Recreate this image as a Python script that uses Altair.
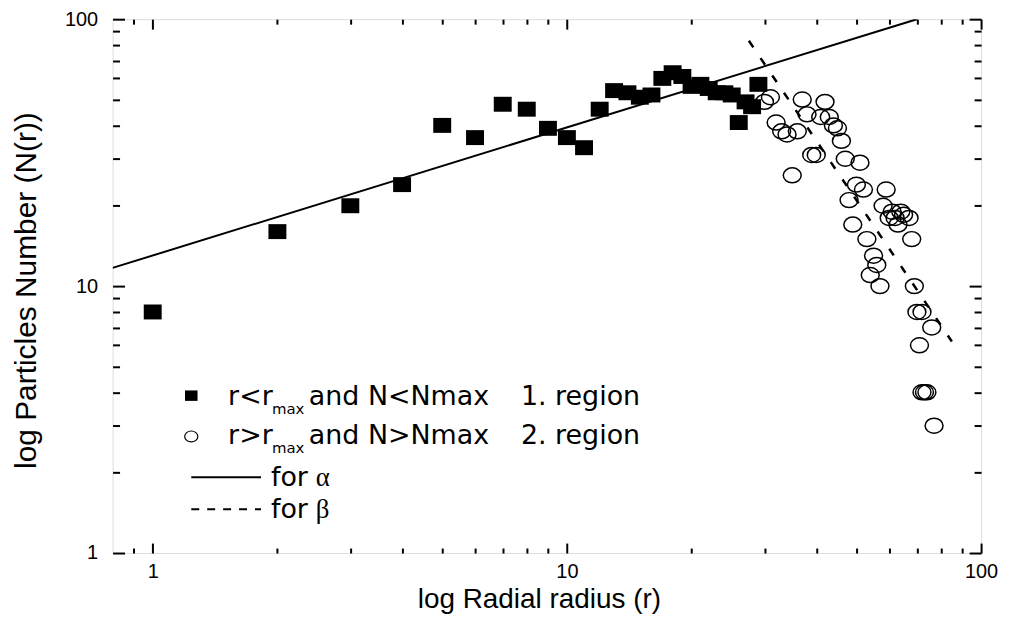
import altair as alt
import pandas as pd

# ---------------- data ----------------
sq_r = [1, 2, 3, 4, 5, 6, 7, 8, 9, 10, 11, 12, 13, 14, 15, 16, 17, 18, 19, 20,
        21, 22, 23, 24, 25, 26, 27, 28, 29]
sq_n = [8, 16, 20, 24, 40, 36, 48, 46, 39, 36, 33, 46, 54, 53, 51, 52, 60, 63, 61, 56,
        57, 55, 53, 53, 52, 41, 49, 47, 57]

ci_r = [30, 31, 32, 33, 34, 35, 36, 37, 38, 39, 40, 41, 42, 43, 44, 45, 46, 47, 48, 49,
        50, 51, 52, 53, 54, 55, 56, 57, 58, 59, 60, 61, 62, 63, 64, 65, 67, 68, 69, 70,
        71, 72, 72, 73, 74, 76, 77]
ci_n = [49, 51, 41, 38, 37, 26, 38, 50, 44, 31, 31, 43, 49, 43, 40, 39, 35, 30, 21, 17,
        24, 29, 23, 15, 11, 13, 12, 10, 20, 23, 18, 19, 18, 17, 19, 18.5, 18, 15, 10, 8,
        6, 8, 4, 4, 4, 7, 3]

alpha_r = [0.8, 70]
alpha_n = [11.7, 100]
beta_r = [27.5, 85]
beta_n = [83, 6.2]

x_major = [1, 10, 100]
x_minor = [0.9, 2, 3, 4, 5, 6, 7, 8, 9, 20, 30, 40, 50, 60, 70, 80, 90]
y_major = [1, 10, 100]
y_minor = [2, 3, 4, 5, 6, 7, 8, 9, 20, 30, 40, 50, 60, 70, 80, 90]

x_title = "log Radial radius (r)"
y_title = "log Particles Number (N(r))"

# ---------------- styling ----------------
W, H = 872, 536
LABEL_FONT = "Liberation Sans"
LEG_FONT = "DejaVu Sans"
SQUARE = "M-1.2,-1L1.2,-1L1.2,1L-1.2,1Z"
ELLIPSE = "M-1.2,0A1.2,1,0,1,1,1.2,0A1.2,1,0,1,1,-1.2,0Z"

XS = alt.Scale(type="log", domain=[0.8, 100], nice=False)
YS = alt.Scale(type="log", domain=[1, 100], nice=False)


def ax(orient, values, size, labels=False, **kw):
    return alt.Axis(orient=orient, values=values, tickSize=size, offset=-size,
                    domain=False, grid=False, ticks=True, tickColor="black",
                    tickWidth=2, labels=labels, labelFlush=False, labelOverlap=False,
                    labelFont=LABEL_FONT, labelFontSize=20, labelColor="black",
                    format="d", **kw)


def xenc(axis, title=None):
    return alt.X("r:Q", scale=XS, axis=axis, title=title)


def yenc(axis, title=None):
    return alt.Y("n:Q", scale=YS, axis=axis, title=title)


sq_df = pd.DataFrame({"r": sq_r, "n": sq_n})
ci_df = pd.DataFrame({"r": ci_r, "n": ci_n})
al_df = pd.DataFrame({"r": alpha_r, "n": alpha_n})
be_df = pd.DataFrame({"r": beta_r, "n": beta_n})

x_major_axis = ax("bottom", x_major, 10, labels=True, labelPadding=9,
                  titleX=428, titleY=57, titleBaseline="middle", titleAlign="center",
                  titleFont=LABEL_FONT, titleFontSize=28, titleFontWeight="normal",
                  titleColor="black")
y_major_axis = ax("left", y_major, 12, labels=True, labelPadding=15,
                  titleX=-98, titleY=272, titleBaseline="middle", titleAlign="center",
                  titleFont=LABEL_FONT, titleFontSize=30, titleFontWeight="normal",
                  titleColor="black")

squares = alt.Chart(sq_df).mark_point(shape=SQUARE, filled=True, size=225,
                                      color="black", opacity=1).encode(
    x=xenc(x_major_axis, x_title), y=yenc(y_major_axis, y_title))

circles = alt.Chart(ci_df).mark_point(shape=ELLIPSE, filled=False, size=225,
                                      color="black", strokeWidth=1.5, opacity=1).encode(
    x=xenc(ax("bottom", x_minor, 5)), y=yenc(ax("left", y_minor, 7)))

alpha_line = alt.Chart(al_df).mark_line(color="black", strokeWidth=2, clip=True).encode(
    x=xenc(ax("top", x_major, 10)), y=yenc(ax("right", y_major, 12)))

beta_line = alt.Chart(be_df).mark_line(color="black", strokeWidth=2.5,
                                       strokeDash=[8, 13], clip=True).encode(
    x=xenc(ax("top", x_minor, 5)), y=yenc(ax("right", y_minor, 7)))

# ---------------- legend (manual, inside the plot) ----------------
one = pd.DataFrame({"k": [0]})


def txt(s, x, y, size=27, font=LEG_FONT):
    return alt.Chart(one).mark_text(text=s, align="left", baseline="alphabetic",
                                    font=font, fontSize=size, color="black").encode(
        x=alt.value(x), y=alt.value(y))


leg = [
    alt.Chart(one).mark_point(shape=SQUARE, filled=True, size=110, color="black",
                              opacity=1).encode(x=alt.value(79), y=alt.value(378)),
    alt.Chart(one).mark_point(shape=ELLIPSE, filled=False, size=121, color="black",
                              strokeWidth=1.2, opacity=1).encode(x=alt.value(79), y=alt.value(419)),
    alt.Chart(one).mark_rule(color="black", strokeWidth=2).encode(
        x=alt.value(79), x2=alt.value(149), y=alt.value(460)),
    alt.Chart(one).mark_rule(color="black", strokeWidth=2, strokeDash=[8, 8]).encode(
        x=alt.value(79), x2=alt.value(149), y=alt.value(492)),
    txt("r<r", 116, 387), txt("max", 160, 396, size=15), txt("and N<Nmax", 197, 387),
    txt("1. region", 410, 387),
    txt("r>r", 116, 427), txt("max", 160, 436, size=15), txt("and N>Nmax", 197, 427),
    txt("2. region", 410, 427),
    txt("for", 159, 469), txt("α", 204, 469, font="Liberation Serif"),
    txt("for", 159, 501), txt("β", 204, 501, font="Liberation Serif"),
]

chart = alt.layer(squares, circles, alpha_line, beta_line, *leg).resolve_axis(
    x="independent", y="independent"
).properties(
    width=W, height=H,
    padding={"left": 105, "top": 10, "right": 20, "bottom": 60},
    autosize=alt.AutoSizeParams(type="none"),
).configure_view(stroke="black", strokeWidth=2).configure(background="white")

chart.save("out.html", embed_options={"renderer": "svg", "actions": False})
